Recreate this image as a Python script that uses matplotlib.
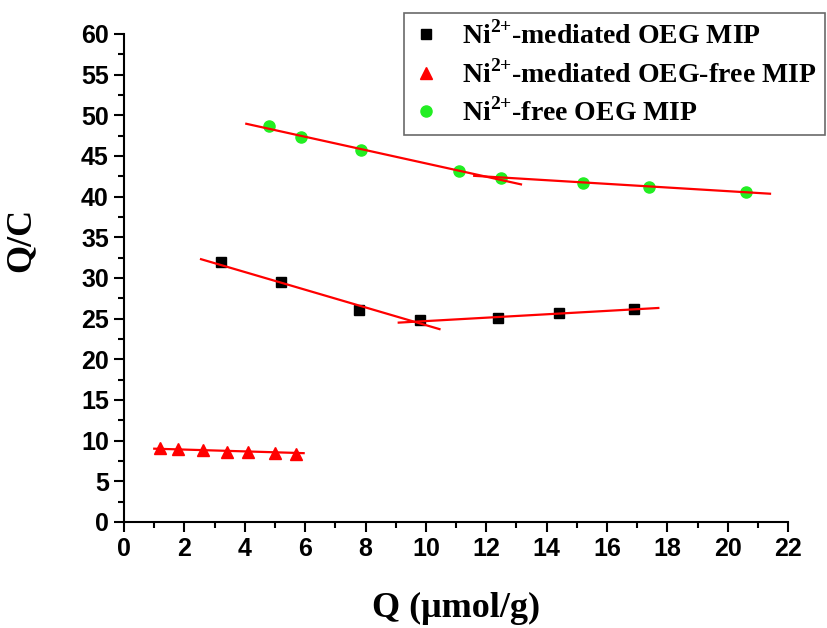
import matplotlib.pyplot as plt
from matplotlib.ticker import MultipleLocator

plt.rcParams['mathtext.fontset'] = 'custom'
plt.rcParams['mathtext.rm'] = 'Liberation Serif:bold'
plt.rcParams['mathtext.bf'] = 'Liberation Serif:bold'
plt.rcParams['font.family'] = 'Liberation Sans'
plt.rcParams['font.weight'] = 'bold'

# Ni2+-mediated OEG MIP (black squares)
q_oeg = [3.2, 5.2, 7.8, 9.8, 12.4, 14.4, 16.9]
qc_oeg = [31.9, 29.5, 26.1, 24.8, 25.1, 25.7, 26.2]
fit_oeg_1_x = [2.55, 10.45]
fit_oeg_1_y = [32.3, 23.7]
fit_oeg_2_x = [9.1, 17.7]
fit_oeg_2_y = [24.5, 26.3]

# Ni2+-mediated OEG-free MIP (red triangles)
q_free = [1.2, 1.8, 2.6, 3.4, 4.1, 5.0, 5.7]
qc_free = [9.1, 8.95, 8.85, 8.6, 8.6, 8.5, 8.4]
fit_free_x = [1.0, 5.95]
fit_free_y = [9.0, 8.45]

# Ni2+-free OEG MIP (green circles)
q_ni = [4.8, 5.85, 7.85, 11.1, 12.5, 15.2, 17.4, 20.6]
qc_ni = [48.7, 47.3, 45.7, 43.2, 42.3, 41.7, 41.2, 40.6]
fit_ni_1_x = [4.05, 13.15]
fit_ni_1_y = [48.95, 41.5]
fit_ni_2_x = [11.6, 21.4]
fit_ni_2_y = [42.55, 40.35]

fig = plt.figure(figsize=(8.27, 6.28), dpi=100)
ax = fig.add_axes([0.15, 0.169, 0.803, 0.777])

ax.plot(q_oeg, qc_oeg, 's', color='black', markersize=7, linestyle='none',
        label=r'Ni$^{\mathbf{2{+}}}$-mediated OEG MIP')
ax.plot(q_free, qc_free, '^', color='red', markersize=8, linestyle='none',
        label=r'Ni$^{\mathbf{2{+}}}$-mediated OEG-free MIP')
ax.plot(q_ni, qc_ni, 'o', color='#22ee22', markersize=8, linestyle='none',
        label=r'Ni$^{\mathbf{2{+}}}$-free OEG MIP')

for fx, fy in [(fit_oeg_1_x, fit_oeg_1_y), (fit_oeg_2_x, fit_oeg_2_y),
               (fit_free_x, fit_free_y),
               (fit_ni_1_x, fit_ni_1_y), (fit_ni_2_x, fit_ni_2_y)]:
    ax.plot(fx, fy, '-', color='red', linewidth=1.6)

ax.set_xlim(0, 22)
ax.set_ylim(0, 60)
ax.xaxis.set_major_locator(MultipleLocator(2))
ax.xaxis.set_minor_locator(MultipleLocator(1))
ax.yaxis.set_major_locator(MultipleLocator(5))
ax.yaxis.set_minor_locator(MultipleLocator(2.5))

ax.spines['top'].set_visible(False)
ax.spines['right'].set_visible(False)
ax.spines['left'].set_linewidth(1.5)
ax.spines['bottom'].set_linewidth(1.5)
ax.tick_params(which='major', direction='out', length=7, width=1.5,
               labelsize=18, pad=4)
ax.tick_params(which='minor', direction='out', length=4, width=1.5)

ax.set_xlabel('Q (μmol/g)', fontfamily='Liberation Serif', fontweight='bold',
              fontsize=26, labelpad=22)
ax.set_ylabel('Q/C', fontfamily='Liberation Serif', fontweight='bold',
              fontsize=26)
ax.yaxis.set_label_coords(-0.131, 0.578)

leg = ax.legend(loc='upper right', bbox_to_anchor=(825 / 827, 1 - 13 / 628),
                bbox_transform=fig.transFigure,
                prop={'family': 'Liberation Serif', 'weight': 'bold', 'size': 20},
                frameon=True, fancybox=False, edgecolor='#444444',
                handletextpad=0.8, borderpad=0.3, labelspacing=0.35,
                handlelength=1.0, borderaxespad=0)
leg.get_frame().set_linewidth(1.2)

fig.savefig('out.png', dpi=100)
